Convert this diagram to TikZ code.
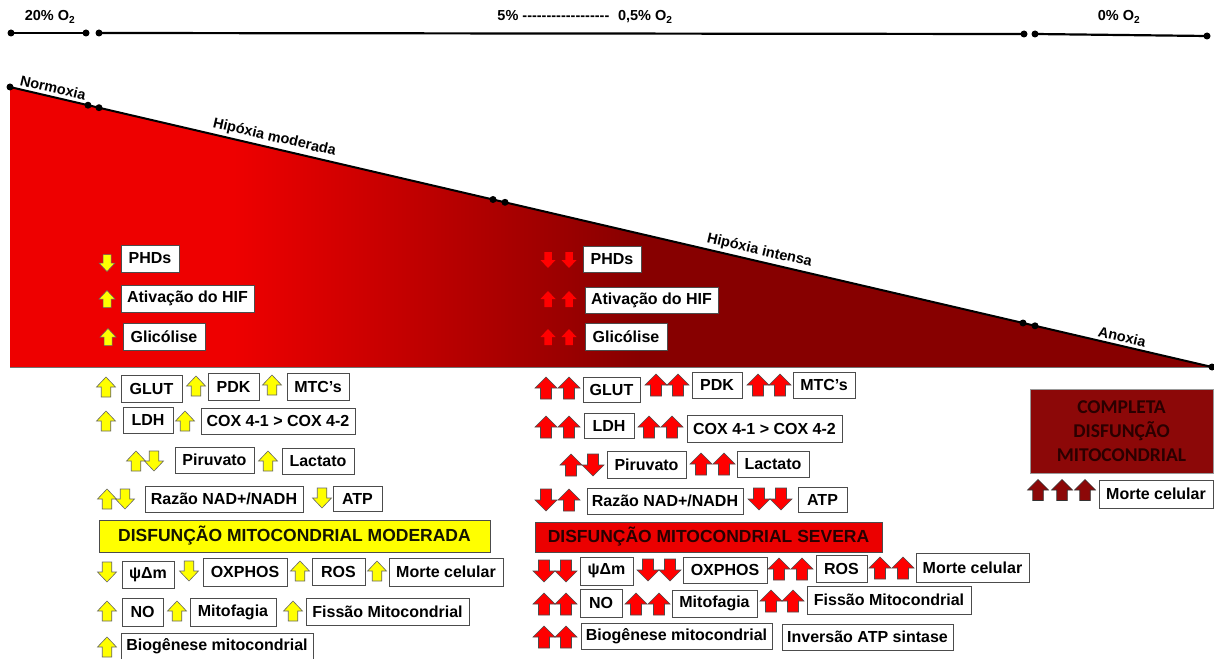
\documentclass[tikz,border=0pt]{standalone}
\usepackage{fontspec}
\setmainfont{Liberation Sans}
\newfontfamily\calib{Carlito}
\definecolor{brightred}{RGB}{238,0,0}
\definecolor{deepred}{RGB}{135,0,0}
\definecolor{boxred}{RGB}{140,8,8}
\definecolor{ytxt}{RGB}{20,20,0}
\definecolor{rtxt}{RGB}{40,0,0}
\definecolor{ctxt}{RGB}{42,0,0}
\definecolor{arrowyellow}{RGB}{255,255,0}
\definecolor{hdred}{RGB}{235,0,0}
\tikzset{
 box/.style={draw=black!70, line width=0.8pt, fill=white, inner sep=0pt, font=\bfseries\fontsize{16}{19}\selectfont},
 arr/.pic={\path[pic actions] (0,-0.5) -- (0.5,0) -- (0.25,0) -- (0.25,0.5) -- (-0.25,0.5) -- (-0.25,0) -- (-0.5,0) -- cycle;},
 ya/.style={fill=arrowyellow, draw=black!60, line width=0.6pt, xscale=19, yscale=20},
 ysm/.style={fill=arrowyellow, draw=black!60, line width=0.5pt, xscale=16, yscale=17},
 ra/.style={fill=red, draw=black!70, line width=0.6pt, xscale=22, yscale=22},
 rsm/.style={fill=red, xscale=15, yscale=16},
 da/.style={fill=boxred, draw=black!80, line width=0.6pt, xscale=21, yscale=21},
 dn/.style={yscale=-1},
 dot/.style={circle, fill=black, inner sep=0pt, minimum size=7pt},
 lbl/.style={font=\bfseries\fontsize{14.5}{17}\selectfont},
 slope/.style={lbl, rotate=-13.11, anchor=south, inner sep=3.5pt},
}
\newcommand\bx[6]{\node[box, minimum width={(#4-#2)*1pt}, minimum height={(#5-#3)*1pt}] (#1) at ({(#2+#4)/2},{(#3+#5)/2}) {#6};}
\begin{document}
\begin{tikzpicture}[x=1pt,y=-1pt]
\useasboundingbox (0,0) rectangle (1214,658);
\clip (0,0) rectangle (1214,658);
\fill[white] (0,0) rectangle (1214,658);
% ---- triangle
\coordinate (tA) at (10,87);
\coordinate (tB) at (1212,367);
\coordinate (tC) at (10,367);
\begin{scope}
\clip (tA) -- (tB) -- (tC) -- cycle;
\fill[brightred] (0,80) rectangle (235,370);
\shade[left color=brightred, right color=deepred] (234,80) rectangle (640,370);
\fill[deepred] (639,80) rectangle (1214,370);
\end{scope}
\draw[black!55, line width=0.8pt] (tC) -- (tB);
\draw[line width=2pt] (tA) -- (tB);
\node[dot] (s1) at (10,87) {};
\node[dot] (s2) at (88,105.2) {};
\node[dot] (s3) at (99,107.7) {};
\node[dot] (s4) at (493,199.5) {};
\node[dot] (s5) at (505,202.3) {};
\node[dot] (s6) at (1023,323) {};
\node[dot] (s7) at (1035,325.8) {};
\node[dot] (s8) at (1212,367) {};
% ---- top bar
\node[dot] (b1) at (11,33) {};
\node[dot] (b2) at (86,33) {};
\node[dot] (b3) at (99,33) {};
\node[dot] (b4) at (1024,34) {};
\node[dot] (b5) at (1035,34) {};
\node[dot] (b6) at (1207,36) {};
\draw[line width=2.2pt] (b1.center) -- (b2.center);
\draw[line width=2.2pt] (b3.center) -- (b4.center);
\draw[line width=2.2pt] (b5.center) -- (b6.center);
\node[lbl] (o20) at (50,17) {20\% O\textsubscript{2}};
\node[lbl] (o5) at (585,17) {5\% -{}-{}-{}-{}-{}-{}-{}-{}-{}-{}-{}-{}-{}-{}-{}-{}-{}-\hspace{0.6em}0,5\% O\textsubscript{2}};
\node[lbl] (o0) at (1119,17) {0\% O\textsubscript{2}};
% ---- slope labels
\node[slope] (lN) at (51,96.5) {Normoxia};
\node[slope] (lH1) at (272,148) {Hipóxia moderada};
\node[slope] (lH2) at (757,261) {Hipóxia intensa};
\node[slope] (lA) at (1120,345.5) {Anoxia};
% ================= LEFT COLUMN
\pic[ysm,dn] at (107,263) {arr};
\pic[ysm] at (107,299) {arr};
\pic[ysm] at (108,337) {arr};
\bx{lphd}{121}{245}{179}{272}{PHDs}
\bx{lhif}{121}{285}{254}{312}{Ativação do HIF}
\bx{lgli}{123}{323}{205}{350}{Glicólise}
% GLUT row
\pic[ya] at (106,387) {arr};
\bx{lglut}{121}{375}{182}{402}{GLUT}
\pic[ya] at (196,386) {arr};
\bx{lpdk}{208}{373}{259}{400}{PDK}
\pic[ya] at (272,385) {arr};
\bx{lmtc}{287}{373}{349}{400}{MTC’s}
% LDH row
\pic[ya] at (106,421) {arr};
\bx{lldh}{123}{407}{173}{433}{LDH}
\pic[ya] at (185,421) {arr};
\bx{lcox}{201}{408}{355}{434}{COX 4-1 > COX 4-2}
% Piruvato row
\pic[ya] at (136,461) {arr};
\pic[ya,dn] at (154,461) {arr};
\bx{lpir}{175}{447}{254}{473}{Piruvato}
\pic[ya] at (268,461) {arr};
\bx{llac}{282}{448}{354}{474}{Lactato}
% Razao row
\pic[ya] at (107,499) {arr};
\pic[ya,dn] at (125,499) {arr};
\bx{lnad}{145}{486}{303}{512}{Razão NAD+/NADH}
\pic[ya,dn] at (322,498) {arr};
\bx{latp}{333}{486}{382}{511}{ATP}
% heading
\node[draw=black!70, fill=arrowyellow, line width=0.8pt, minimum width=391pt, minimum height=32pt, inner sep=0pt, font=\bfseries\fontsize{17.5}{20}\selectfont, text=ytxt] (hmod) at (294.5,536) {DISFUNÇÃO MITOCONDRIAL MODERADA};
% psi row
\pic[ya,dn] at (107,572) {arr};
\bx{lpsi}{122}{561}{174}{588}{ψΔm}
\pic[ya,dn] at (189,571) {arr};
\bx{loxp}{203}{558}{287}{586}{OXPHOS}
\pic[ya] at (300,571) {arr};
\bx{lros}{312}{558}{365}{585}{ROS}
\pic[ya] at (377,571) {arr};
\bx{lmor}{389}{558}{503}{586}{Morte celular}
% NO row
\pic[ya] at (107,611) {arr};
\bx{lno}{122}{598}{163}{626}{NO}
\pic[ya] at (177,611) {arr};
\bx{lmit}{190}{598}{276}{626}{Mitofagia}
\pic[ya] at (293,611) {arr};
\bx{lfis}{306}{598}{469}{625}{Fissão Mitocondrial}
% Bio row
\pic[ya] at (107,647) {arr};
\bx{lbio}{121}{633}{313}{660}{Biogênese mitocondrial}
% ================= MIDDLE COLUMN
\pic[rsm,dn] at (548,260) {arr};
\pic[rsm,dn] at (569,260) {arr};
\pic[rsm] at (548,299) {arr};
\pic[rsm] at (569,299) {arr};
\pic[rsm] at (548,337) {arr};
\pic[rsm] at (569,337) {arr};
\bx{mphd}{583}{246}{641}{272}{PHDs}
\bx{mhif}{585}{287}{718}{313}{Ativação do HIF}
\bx{mgli}{585}{323}{667}{350}{Glicólise}
% GLUT row
\pic[ra] at (546,388) {arr};
\pic[ra] at (569,388) {arr};
\bx{mglut}{583}{377}{640}{402}{GLUT}
\pic[ra] at (656,385) {arr};
\pic[ra] at (678,385) {arr};
\bx{mpdk}{692}{372}{742}{398}{PDK}
\pic[ra] at (758,385) {arr};
\pic[ra] at (780,385) {arr};
\bx{mmtc}{793}{372}{855}{398}{MTC’s}
% LDH row
\pic[ra] at (546,427) {arr};
\pic[ra] at (569,427) {arr};
\bx{mldh}{584}{413}{634}{438}{LDH}
\pic[ra] at (649,427) {arr};
\pic[ra] at (672,427) {arr};
\bx{mcox}{687}{415}{842}{442}{COX 4-1 > COX 4-2}
% Piruvato row
\pic[ra] at (571,465) {arr};
\pic[ra,dn] at (593,465) {arr};
\bx{mpir}{607}{451}{686}{478}{Piruvato}
\pic[ra] at (701,464) {arr};
\pic[ra] at (724,464) {arr};
\bx{mlac}{737}{451}{809}{477}{Lactato}
% Razao row
\pic[ra,dn] at (546,500) {arr};
\pic[ra] at (569,500) {arr};
\bx{mnad}{587}{488}{743}{514}{Razão NAD+/NADH}
\pic[ra,dn] at (759,499) {arr};
\pic[ra,dn] at (781,499) {arr};
\bx{matp}{798}{487}{847}{512}{ATP}
% heading
\node[draw=black!70, fill=hdred, line width=0.8pt, minimum width=347pt, minimum height=30pt, inner sep=0pt, font=\bfseries\fontsize{17.5}{20}\selectfont, text=rtxt] (hsev) at (708.5,537) {DISFUNÇÃO MITOCONDRIAL SEVERA};
% psi row
\pic[ra,dn] at (544,571) {arr};
\pic[ra,dn] at (566,571) {arr};
\bx{mpsi}{580}{557}{633}{585}{ψΔm}
\pic[ra,dn] at (648,570) {arr};
\pic[ra,dn] at (670,570) {arr};
\bx{moxp}{683}{557}{767}{583}{OXPHOS}
\pic[ra] at (779,569) {arr};
\pic[ra] at (802,569) {arr};
\bx{mros}{816}{555}{867}{582}{ROS}
\pic[ra] at (880,568) {arr};
\pic[ra] at (903,568) {arr};
\bx{mmor}{916}{553}{1029}{582}{Morte celular}
% NO row
\pic[ra] at (544,604) {arr};
\pic[ra] at (566,604) {arr};
\bx{mno}{580}{589}{622}{617}{NO}
\pic[ra] at (636,604) {arr};
\pic[ra] at (659,604) {arr};
\bx{mmit}{672}{590}{757}{617}{Mitofagia}
\pic[ra] at (771,601) {arr};
\pic[ra] at (793,601) {arr};
\bx{mfis}{807}{586}{971}{614}{Fissão Mitocondrial}
% Bio row
\pic[ra] at (544,637) {arr};
\pic[ra] at (566,637) {arr};
\bx{mbio}{581}{623}{772}{649}{Biogênese mitocondrial}
\bx{minv}{782}{624}{953}{650}{Inversão ATP sintase}
% ================= RIGHT COLUMN
\node[fill=boxred, draw=black!40, line width=0.5pt, minimum width=183pt, minimum height=84pt, inner sep=0pt, align=center, text=ctxt, font=\calib\bfseries\fontsize{19.5}{24}\selectfont] (comp) at (1121.5,431) {COMPLETA\\DISFUNÇÃO\\MITOCONDRIAL};
\pic[da] at (1038,490) {arr};
\pic[da] at (1062,490) {arr};
\pic[da] at (1085,490) {arr};
\bx{rmor}{1099}{480}{1213}{508}{Morte celular}
\end{tikzpicture}
\end{document}
